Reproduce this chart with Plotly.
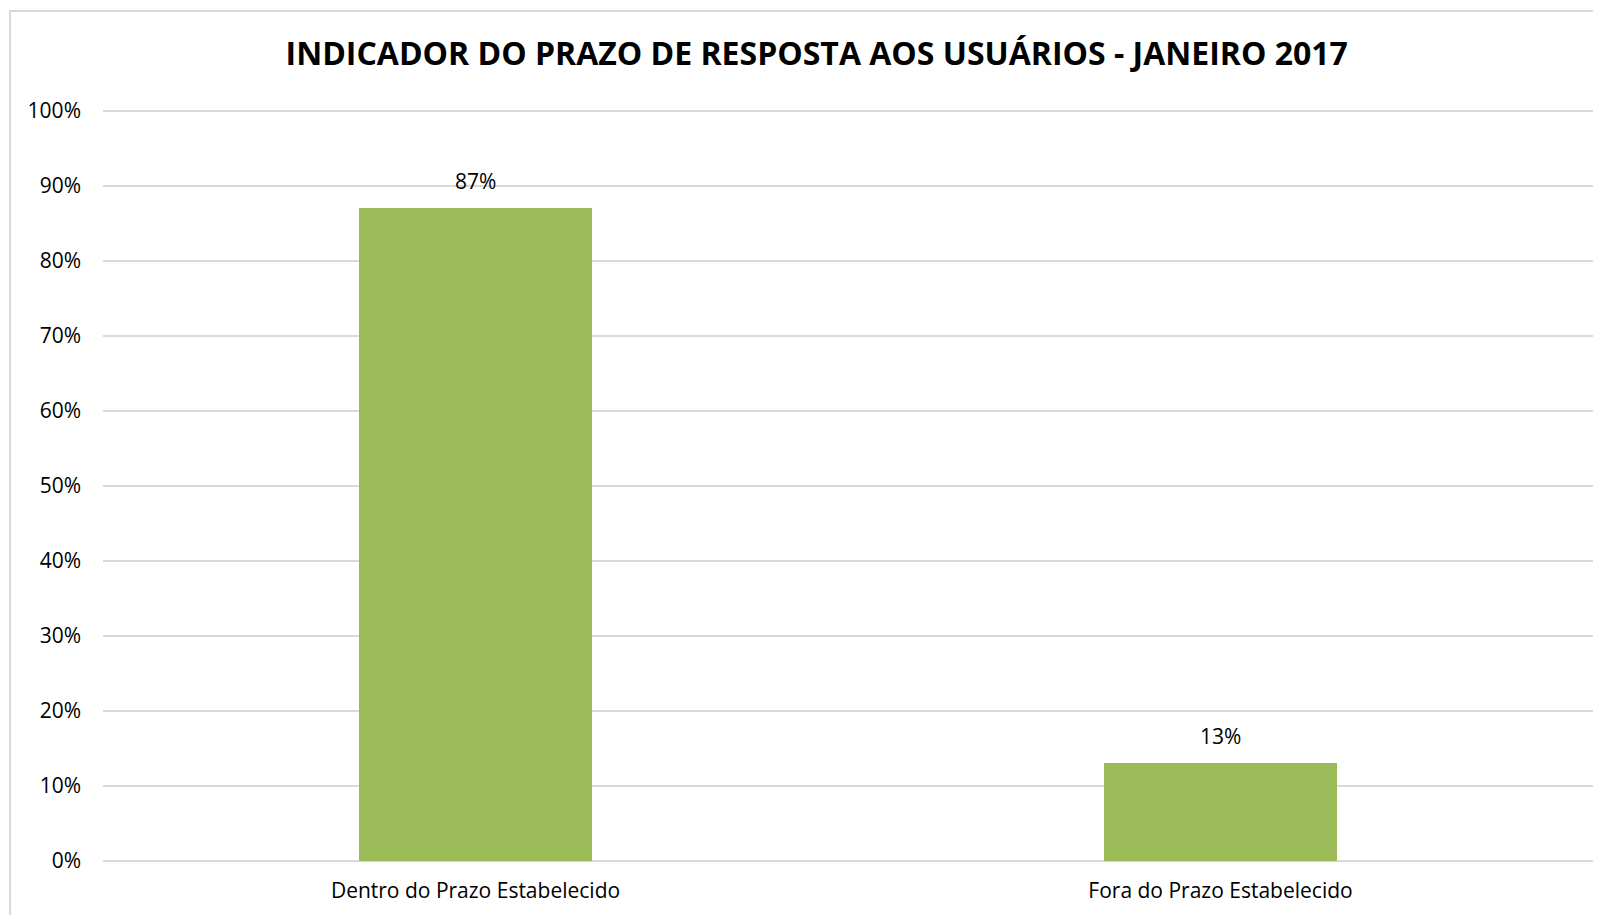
import plotly.graph_objects as go

# data
categories = ['Dentro do Prazo Estabelecido', 'Fora do Prazo Estabelecido']
percentages = [0.87, 0.13]
y_ticks = [0, 0.1, 0.2, 0.3, 0.4, 0.5, 0.6, 0.7, 0.8, 0.9, 1.0]
title_text = 'INDICADOR DO PRAZO DE RESPOSTA AOS USUÁRIOS - JANEIRO 2017'

FONT = 'Open Sans'
BAR_COLOR = '#9BBB59'
GRID_COLOR = '#D9D9D9'

# page body adds an 8px margin, so the figure is a bit smaller than the window
W, H = 1593, 907

fig = go.Figure()

fig.add_trace(go.Bar(
    x=categories,
    y=percentages,
    width=0.313,
    marker=dict(color=BAR_COLOR, line=dict(width=0)),
    hoverinfo='skip'
))

# value labels above the bars
for cat, val in zip(categories, percentages):
    fig.add_annotation(
        x=cat, y=val,
        text=f'{round(val * 100)}%',
        showarrow=False,
        yanchor='middle',
        yshift=27,
        font=dict(family=FONT, size=21, color='#000000')
    )

# light frame around the chart area (cut off on the right and bottom)
fig.add_shape(
    type='rect', xref='paper', yref='paper',
    x0=-0.0624, x1=1.05, y0=-0.2, y1=1.1303,
    line=dict(color=GRID_COLOR, width=2),
    fillcolor='rgba(0,0,0,0)',
    layer='below'
)

fig.update_layout(
    width=W,
    height=H,
    margin=dict(l=95, r=8, t=101, b=54),
    paper_bgcolor='white',
    plot_bgcolor='white',
    showlegend=False,
    bargap=0,
    title=dict(
        text=f'<b>{title_text}</b>',
        x=0.479, xref='paper', xanchor='center',
        y=1 - 46 / H, yref='container', yanchor='middle',
        font=dict(family=FONT, size=32, color='#000000')
    ),
    xaxis=dict(
        showgrid=False,
        showline=False,
        zeroline=False,
        ticks='',
        ticklabelstandoff=15,
        tickfont=dict(family=FONT, size=21, color='#000000')
    ),
    yaxis=dict(
        range=[0, 1.002],
        tickvals=y_ticks,
        tickformat='.0%',
        showgrid=True,
        gridcolor=GRID_COLOR,
        gridwidth=2,
        zeroline=True,
        zerolinecolor=GRID_COLOR,
        zerolinewidth=2,
        showline=False,
        ticks='',
        ticklabelstandoff=21,
        tickfont=dict(family=FONT, size=21, color='#000000')
    )
)

fig.write_html("out.html")
